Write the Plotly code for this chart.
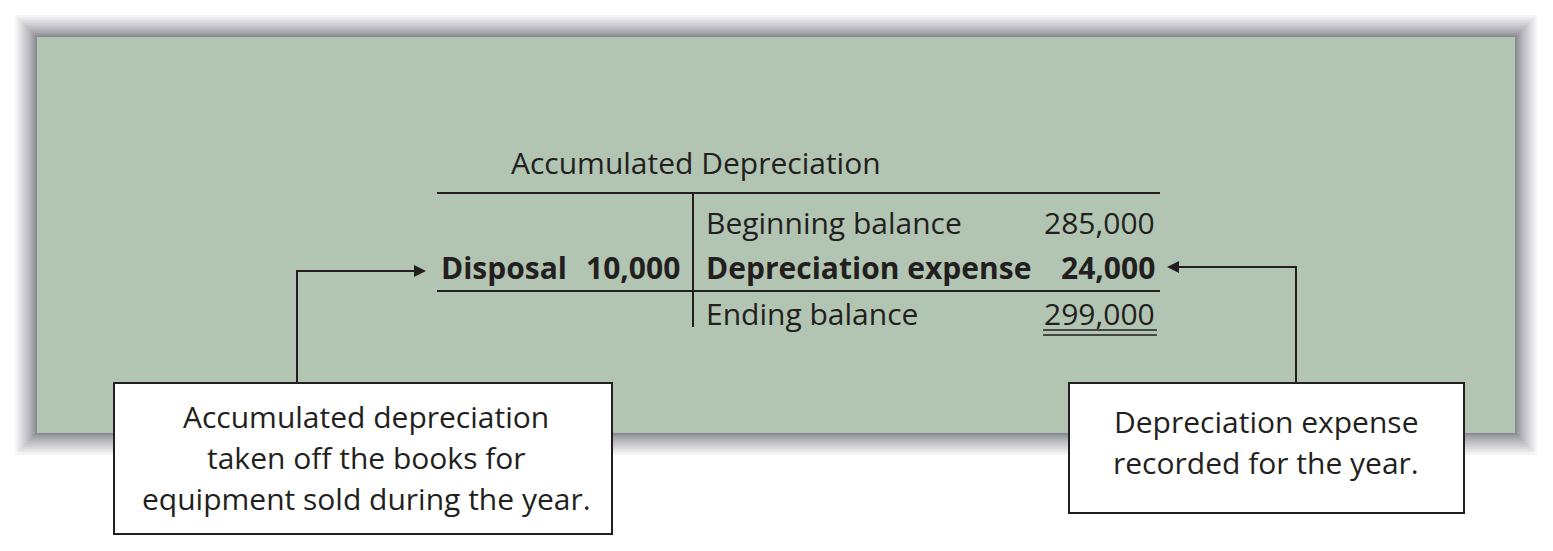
import plotly.graph_objects as go

# ── Data ──────────────────────────────────────────────────────────────────────
account_title = "Accumulated Depreciation"
debit_labels = ["", "Disposal", ""]
debit_amounts = [None, 10000, None]
credit_labels = ["Beginning balance", "Depreciation expense", "Ending balance"]
credit_amounts = [285000, 24000, 299000]
bold_rows = [1]
left_note = ["Accumulated depreciation", "taken off the books for", "equipment sold during the year."]
right_note = ["Depreciation expense", "recorded for the year."]

# ── Style ─────────────────────────────────────────────────────────────────────
W, H = 1553, 551
OFF = 8            # page body margin, so coordinates below are page pixels
FONT = "Open Sans"
INK = "#231f20"
PANEL = "#b2c4b2"
SIZE = 30
LINE_GAP = 41

fig = go.Figure()
shapes = []
annotations = []

# panel shadow: translucent rects, packed tight near the edge so it fades out
N = 20
for i in range(1, N + 1):
    d = 22 * (i / N) ** 2
    shapes.append(dict(type="rect", x0=37 - d, x1=1515 + d, y0=37 - d, y1=433 + d,
                       fillcolor="rgba(80,75,95,0.055)", line=dict(width=0), layer="below"))
shapes.append(dict(type="rect", x0=37, x1=1515, y0=37, y1=433,
                   fillcolor=PANEL, line=dict(width=0), layer="below"))

# T-account lines
tx0, tx1, tmid = 437, 1160, 693
row_y = [222, 267, 313]
shapes.append(dict(type="line", x0=tx0, x1=tx1, y0=193, y1=193, line=dict(color=INK, width=2)))
shapes.append(dict(type="line", x0=tx0, x1=tx1, y0=291, y1=291, line=dict(color=INK, width=2)))
shapes.append(dict(type="line", x0=tmid, x1=tmid, y0=193, y1=327, line=dict(color=INK, width=2)))
# double underline under ending balance
shapes.append(dict(type="line", x0=1043, x1=1157, y0=330, y1=330, line=dict(color=INK, width=1.5)))
shapes.append(dict(type="line", x0=1043, x1=1157, y0=335, y1=335, line=dict(color=INK, width=1.5)))

annotations.append(dict(x=509, y=162, text=account_title, xanchor="left", yanchor="middle",
                        showarrow=False, font=dict(family=FONT, size=SIZE, color=INK)))

for i, y in enumerate(row_y):
    b = i in bold_rows
    f = dict(family=FONT, size=SIZE, color=INK, weight="bold" if b else "normal")
    if debit_labels[i]:
        annotations.append(dict(x=439, y=y, text=debit_labels[i], xanchor="left", yanchor="middle",
                                showarrow=False, font=f))
    if debit_amounts[i] is not None:
        annotations.append(dict(x=682, y=y, text=f"{debit_amounts[i]:,}", xanchor="right",
                                yanchor="middle", showarrow=False, font=f))
    annotations.append(dict(x=704, y=y, text=credit_labels[i], xanchor="left", yanchor="middle",
                            showarrow=False, font=f))
    annotations.append(dict(x=1157, y=y, text=f"{credit_amounts[i]:,}", xanchor="right",
                            yanchor="middle", showarrow=False, font=f))

# callout boxes
shapes.append(dict(type="rect", x0=114, x1=612, y0=383, y1=534, fillcolor="white",
                   line=dict(color=INK, width=2)))
shapes.append(dict(type="rect", x0=1069, x1=1464, y0=383, y1=513, fillcolor="white",
                   line=dict(color=INK, width=2)))
for k, line in enumerate(left_note):
    annotations.append(dict(x=366, y=416 + k * LINE_GAP, text=line, showarrow=False,
                            xanchor="center", yanchor="middle",
                            font=dict(family=FONT, size=SIZE, color=INK)))
for k, line in enumerate(right_note):
    annotations.append(dict(x=1266, y=421 + k * LINE_GAP, text=line, showarrow=False,
                            xanchor="center", yanchor="middle",
                            font=dict(family=FONT, size=SIZE, color=INK)))

# elbow connectors
shapes.append(dict(type="path", path="M 297 383 L 297 271 L 418 271",
                   line=dict(color=INK, width=2)))
shapes.append(dict(type="path", path="M 1296 383 L 1296 267 L 1176 267",
                   line=dict(color=INK, width=2)))
annotations.append(dict(x=426, y=271, ax=410, ay=271, axref="x", ayref="y", xref="x", yref="y",
                        text="", showarrow=True, arrowhead=2, arrowsize=1.2, arrowwidth=2,
                        arrowcolor=INK))
annotations.append(dict(x=1167, y=267, ax=1183, ay=267, axref="x", ayref="y", xref="x", yref="y",
                        text="", showarrow=True, arrowhead=2, arrowsize=1.2, arrowwidth=2,
                        arrowcolor=INK))

fig.update_layout(
    width=W - 2 * OFF, height=H - 2 * OFF,
    margin=dict(l=0, r=0, t=0, b=0),
    paper_bgcolor="white", plot_bgcolor="white",
    xaxis=dict(range=[OFF, W - OFF], visible=False, fixedrange=True),
    yaxis=dict(range=[H - OFF, OFF], visible=False, fixedrange=True),
    shapes=shapes, annotations=annotations,
    showlegend=False,
)

fig.write_html("out.html")
